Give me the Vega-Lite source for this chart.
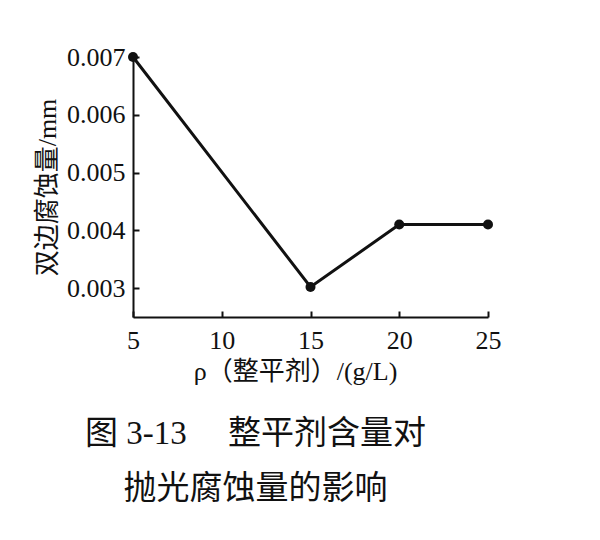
{
  "$schema": "https://vega.github.io/schema/vega-lite/v6.json",
  "autosize": "none",
  "width": 355,
  "height": 260,
  "padding": {"left": 133, "top": 57, "right": 112, "bottom": 223},
  "background": "white",
  "data": {"values": [
    {"x": 5, "y": 0.007},
    {"x": 15, "y": 0.00302},
    {"x": 20, "y": 0.0041},
    {"x": 25, "y": 0.0041}
  ]},
  "title": {
    "text": ["图 3-13　 整平剂含量对", "抛光腐蚀量的影响"],
    "orient": "bottom",
    "anchor": "middle",
    "dx": -55,
    "offset": 34,
    "font": "Liberation Serif, Noto Sans CJK SC",
    "fontSize": 33,
    "fontWeight": "normal",
    "lineHeight": 55,
    "color": "#111"
  },
  "config": {
    "view": {"stroke": null},
    "axis": {
      "domainColor": "#111",
      "domainWidth": 2,
      "tickColor": "#111",
      "tickWidth": 2,
      "grid": false,
      "labelFlush": false,
      "labelFont": "Liberation Serif",
      "labelFontSize": 26,
      "labelColor": "#111",
      "titleFont": "Liberation Serif, Noto Sans CJK SC",
      "titleFontWeight": "normal",
      "titleColor": "#111"
    }
  },
  "layer": [
    {
      "mark": {"type": "line", "color": "#111", "strokeWidth": 3},
      "encoding": {
        "x": {"field": "x", "type": "quantitative"},
        "y": {"field": "y", "type": "quantitative"}
      }
    },
    {
      "mark": {"type": "point", "filled": true, "color": "#111", "size": 100, "opacity": 1},
      "encoding": {
        "x": {
          "field": "x", "type": "quantitative",
          "scale": {"domain": [5, 25], "nice": false, "zero": false},
          "axis": {
            "values": [5, 10, 15, 20, 25],
            "tickSize": -6,
            "labelPadding": 16,
            "title": "ρ（整平剂）/(g/L)",
            "titleFontSize": 26,
            "titleX": 162,
            "titlePadding": 5
          }
        },
        "y": {
          "field": "y", "type": "quantitative",
          "scale": {"domain": [0.0025, 0.007], "nice": false, "zero": false},
          "axis": {
            "values": [0.003, 0.004, 0.005, 0.006, 0.007],
            "format": ".3f",
            "tickSize": -6,
            "labelPadding": 14,
            "title": "双边腐蚀量/mm",
            "titleFontSize": 26,
            "titlePadding": 6
          }
        }
      }
    }
  ]
}
